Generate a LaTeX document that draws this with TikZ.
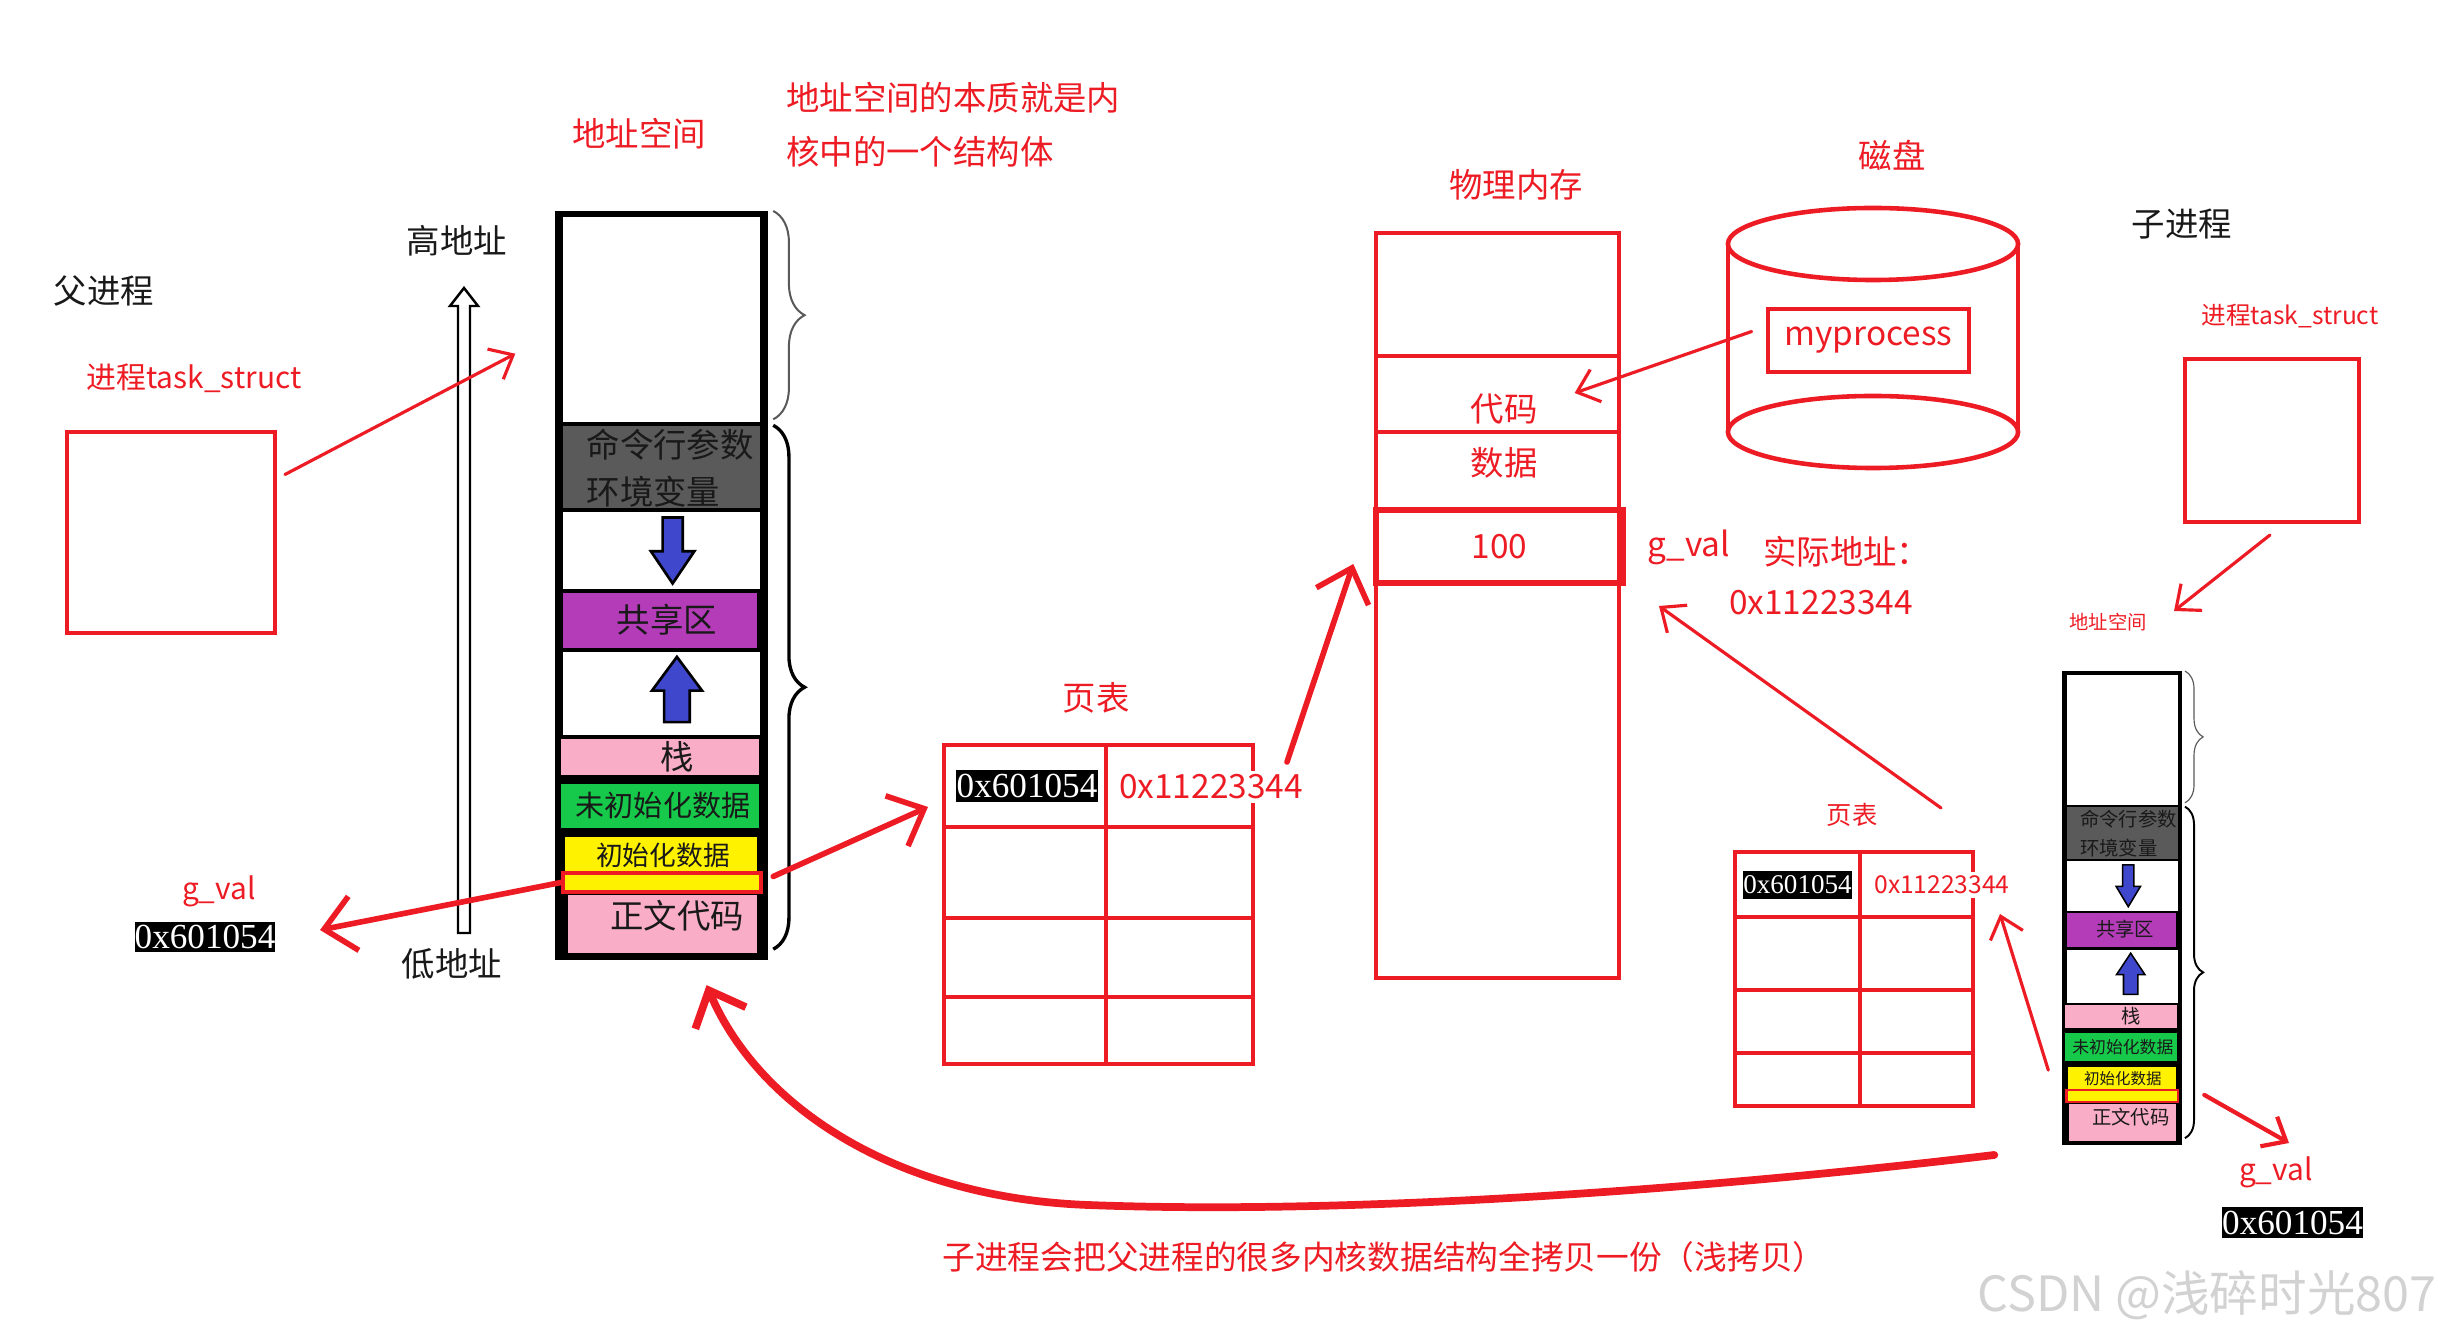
\documentclass[tikz,border=0pt]{standalone}
\usepackage{fontspec}
\setmainfont{Noto Sans CJK SC}
\newfontfamily\hexfont{Liberation Serif}
\usepackage{xcolor}
\usepackage{tikz}
\usetikzlibrary{arrows.meta,positioning,calc,decorations.pathreplacing}

\definecolor{pred}{HTML}{ED1C24}
\definecolor{segGray}{HTML}{5A5A5A}
\definecolor{segPurple}{HTML}{B43CB9}
\definecolor{segPink}{HTML}{F9ADC6}
\definecolor{segGreen}{HTML}{16C94A}
\definecolor{segYellow}{HTML}{FFF200}
\definecolor{segBlue}{HTML}{3F48CC}

% address space column: name, left, top, width (cm), height (cm), font size
\newcommand{\addrspace}[6]{%
  \pgfmathsetmacro\bssfs{0.87*#6}\pgfmathsetmacro\datafs{0.8*#6}%
  \begin{scope}[shift={(#2,#3)}, x=#4cm, y=-#5cm,
      seg/.style={font=\fontsize{#6}{#6}\selectfont, inner sep=0pt, text=black!90}]
    \node[fill=black, inner sep=0pt, minimum width=#4cm, minimum height=#5cm] (#1col) at (0.5,0.5) {};
    \fill[white] (0.038,0.008) rectangle (0.962,0.282);
    \fill[segGray] (0.038,0.287) rectangle (0.962,0.396);
    \fill[white] (0.038,0.401) rectangle (0.962,0.505);
    \fill[segPurple] (0.038,0.510) rectangle (0.948,0.583);
    \fill[white] (0.038,0.588) rectangle (0.962,0.699);
    \fill[segPink] (0.028,0.705) rectangle (0.958,0.753);
    \fill[segGreen] (0.028,0.764) rectangle (0.958,0.823);
    \fill[segYellow] (0.047,0.835) rectangle (0.948,0.884);
    \fill[segPink] (0.061,0.913) rectangle (0.948,0.99);
    \node[draw=pred, fill=segYellow, line width=0.12*#6pt, inner sep=0pt,
      minimum width=0.93*#4cm, minimum height=0.026*#5cm] (#1gv) at (0.5025,0.896) {};
    % heap / stack growth
    \filldraw[fill=segBlue, draw=black, line width=0.08*#6pt]
      (0.505,0.409) -- (0.599,0.409) -- (0.599,0.454) -- (0.654,0.454) -- (0.552,0.497)
      -- (0.45,0.454) -- (0.505,0.454) -- cycle;
    \filldraw[fill=segBlue, draw=black, line width=0.08*#6pt]
      (0.512,0.682) -- (0.632,0.682) -- (0.632,0.64) -- (0.69,0.64) -- (0.572,0.595)
      -- (0.455,0.64) -- (0.512,0.64) -- cycle;
    \node[seg, anchor=west] (#1args) at (0.145,0.312) {命令行参数};
    \node[seg, anchor=west] (#1env) at (0.145,0.374) {环境变量};
    \node[seg] (#1shm) at (0.526,0.545) {共享区};
    \node[seg] (#1stack) at (0.573,0.728) {栈};
    \node[seg, font=\fontsize{\bssfs}{\bssfs}\selectfont] (#1bss) at (0.507,0.793) {未初始化数据};
    \node[seg, font=\fontsize{\datafs}{\datafs}\selectfont] (#1data) at (0.507,0.86) {初始化数据};
    \node[seg] (#1text) at (0.573,0.94) {正文代码};
    \draw[gray!70!black, line width=0.06*#6pt, decorate,
      decoration={brace, amplitude=0.033*#6cm}] (1.024,0) -- (1.024,0.278);
    \draw[black, line width=0.1*#6pt, decorate,
      decoration={brace, amplitude=0.033*#6cm}] (1.024,0.286) -- (1.024,0.985);
  \end{scope}}

% page table: name, centre x, centre y, width (cm), height (cm)
\newcommand{\pagetable}[5]{%
  \node[tablebox, minimum width=#4cm, minimum height=#5cm] (#1) at (#2,#3) {};
  \draw[tableline] ($(#1.north west)!0.525!(#1.north east)$) -- ($(#1.south west)!0.525!(#1.south east)$);
  \foreach \rr in {0.26,0.542,0.787}
    \draw[tableline] ($(#1.north west)!\rr!(#1.south west)$) -- ($(#1.north east)!\rr!(#1.south east)$);}

\begin{document}
\begin{tikzpicture}[
  x=0.01cm, y=-0.01cm,
  lbl/.style={font=\fontsize{9.5}{11}\selectfont, text=black!90, inner sep=1pt},
  rlbl/.style={font=\fontsize{9.5}{11}\selectfont, text=pred, inner sep=1pt},
  hexbox/.style={fill=black, text=white, font=\hexfont\fontsize{10}{12}\selectfont, inner sep=0pt},
  taskbox/.style={draw=pred, line width=1.1pt, inner sep=0pt},
  tablebox/.style={draw=pred, line width=1.1pt, inner sep=0pt},
  tableline/.style={draw=pred, line width=1.1pt},
  membox/.style={draw=pred, line width=1pt, inner sep=0pt},
  disk/.style={draw=pred, line width=1.3pt},
  bigarrow/.style={draw=pred, line width=1.6pt, line cap=round, -{Straight Barb[length=3mm,width=5.5mm]}},
  smallarrow/.style={draw=pred, line width=0.9pt, line cap=round, -{Straight Barb[length=2mm,width=3.4mm]}},
]
  \useasboundingbox (0,0) rectangle (2438,1337);

  % parent process
  \node[lbl] (ptitle) at (104,291) {父进程};
  \node[rlbl, font=\fontsize{8.5}{10}\selectfont] (ptasklbl) at (194,378) {进程task\_struct};
  \node[taskbox, minimum width=2.08cm, minimum height=2.01cm] (ptask) at (171,532.5) {};
  \node[lbl] (high) at (457,241) {高地址};
  \node[lbl] (low) at (452,964) {低地址};
  \draw[line width=0.7pt, fill=white] (458,933) -- (458,306) -- (450,306) -- (464,288)
    -- (478,306) -- (470,306) -- (470,933) -- cycle;
  \node[rlbl] (paddr) at (639,134) {地址空间};
  \node[rlbl, anchor=west] (note1) at (782,98) {地址空间的本质就是内};
  \node[rlbl, anchor=west] (note2) at (782,152) {核中的一个结构体};
  \addrspace{p}{555}{211}{2.13}{7.49}{9.5}
  \node[rlbl, font=\fontsize{8.5}{10}\selectfont] (pgval) at (219,891) {g\_val};
  \node[hexbox, minimum width=1.4cm, minimum height=0.3cm] (pgvalhex) at (205,937) {0x601054};
  \draw[smallarrow] ([shift={(8,-58)}]ptask.east) -- ([shift={(-39,-232)}]pcol.west);
  \draw[bigarrow] (pgv.west) -- ([shift={(44,-7)}]pgvalhex.east);

  % physical memory
  \node[rlbl] (memtitle) at (1516,185) {物理内存};
  \node[membox, minimum width=2.43cm, minimum height=7.45cm] (mem) at (1497.5,605.5) {};
  \foreach \yy in {356,432}
    \draw[membox] (mem.west |- 0,\yy) -- (mem.east |- 0,\yy);
  \node[membox, rlbl, line width=1.5pt, minimum width=2.47cm, minimum height=0.73cm] (val) at (1499.5,546.5) {100};
  \node[rlbl] (code) at (1504,409) {代码};
  \node[rlbl] (data) at (1504,463) {数据};

  % page table of the parent
  \node[rlbl] (t1title) at (1096,698) {页表};
  \pagetable{t1}{1098.5}{904.5}{3.09}{3.19}
  \node[hexbox, minimum width=1.42cm, minimum height=0.32cm] (t1virt) at (1027,786) {0x601054};
  \node[rlbl, fill=white] (t1phys) at (1211,787) {0x11223344};
  \draw[bigarrow] ([shift={(10,-6)}]pgv.east) -- ([shift={(-14,64)}]t1.north west);
  \draw[bigarrow] ([shift={(76,-25)}]t1phys.center) -- ([shift={(-20,17.5)}]val.west);

  % disk
  \node[rlbl] (disktitle) at (1892,155) {磁盘};
  \draw[disk] (1873,244) ellipse [x radius=1.45cm, y radius=0.36cm];
  \draw[disk] (1873,432) ellipse [x radius=1.45cm, y radius=0.36cm];
  \draw[disk] (1728,244) -- (1728,432) (2018,244) -- (2018,432);
  \node[taskbox, rlbl, line width=1.3pt, minimum width=2.01cm, minimum height=0.63cm] (myproc) at (1868.5,340.5) {myprocess};
  \draw[smallarrow] ([shift={(-14,-9)}]myproc.west) -- ([shift={(33,-16)}]code.east);

  \node[rlbl] (mgval) at (1689,547) {g\_val};
  \node[rlbl, anchor=west] (realaddr) at (1759,552) {实际地址：};
  \node[rlbl] (realhex) at (1821,603) {0x11223344};

  % page table of the child
  \node[rlbl, font=\fontsize{7.2}{9}\selectfont] (t2title) at (1852,815) {页表};
  \pagetable{t2}{1854}{979}{2.38}{2.54}
  \node[hexbox, font=\hexfont\fontsize{7.7}{9}\selectfont, minimum width=1.09cm, minimum height=0.28cm] (t2virt) at (1797.5,885) {0x601054};
  \node[rlbl, fill=white, font=\fontsize{7}{9}\selectfont] (t2phys) at (1942,885) {0x11223344};
  \draw[smallarrow] ([shift={(-34,-42)}]t2.north east) -- ([shift={(-30,59)}]mgval.center);

  % child process
  \node[lbl] (ctitle) at (2182,224) {子进程};
  \node[rlbl, font=\fontsize{7}{9}\selectfont] (ctasklbl) at (2290,316) {进程task\_struct};
  \node[taskbox, minimum width=1.74cm, minimum height=1.63cm] (ctask) at (2272,440.5) {};
  \node[rlbl, font=\fontsize{5.5}{7}\selectfont] (caddr) at (2108,622) {地址空间};
  \draw[smallarrow] ([shift={(-2,11)}]ctask.south) -- ([shift={(66,-11)}]caddr.center);
  \addrspace{c}{2062}{671}{1.20}{4.74}{5.5}
  \draw[smallarrow] ([shift={(-13,162)}]ccol.west) -- ([shift={(25,-65)}]t2.east);
  \node[rlbl, font=\fontsize{8.5}{10}\selectfont] (cgval) at (2276,1172) {g\_val};
  \node[hexbox, minimum width=1.39cm, minimum height=0.31cm] (cgvalhex) at (2292.5,1222.5) {0x601054};
  \draw[smallarrow, line width=1.2pt] ([shift={(25,-1)}]cgv.east) -- ([shift={(13,-29)}]cgval.center);

  % copy of the kernel structures
  \draw[pred, line width=2.2pt, line cap=round, -{Straight Barb[length=3mm,width=5.5mm]}]
    ([shift={(-67,9)}]ccol.south west) .. controls (1700,1190) and (1350,1215) .. (1088,1205)
    .. controls (900,1198) and (760,1110) .. ([shift={(45,24)}]pcol.south);
  \node[rlbl, font=\fontsize{9.3}{11}\selectfont] (copynote) at (1384,1257) {子进程会把父进程的很多内核数据结构全拷贝一份（浅拷贝）};
  \node[font=\fontsize{13.8}{16}\selectfont, text=gray!35] (wm) at (2207,1295) {CSDN @浅碎时光807};
\end{tikzpicture}
\end{document}
